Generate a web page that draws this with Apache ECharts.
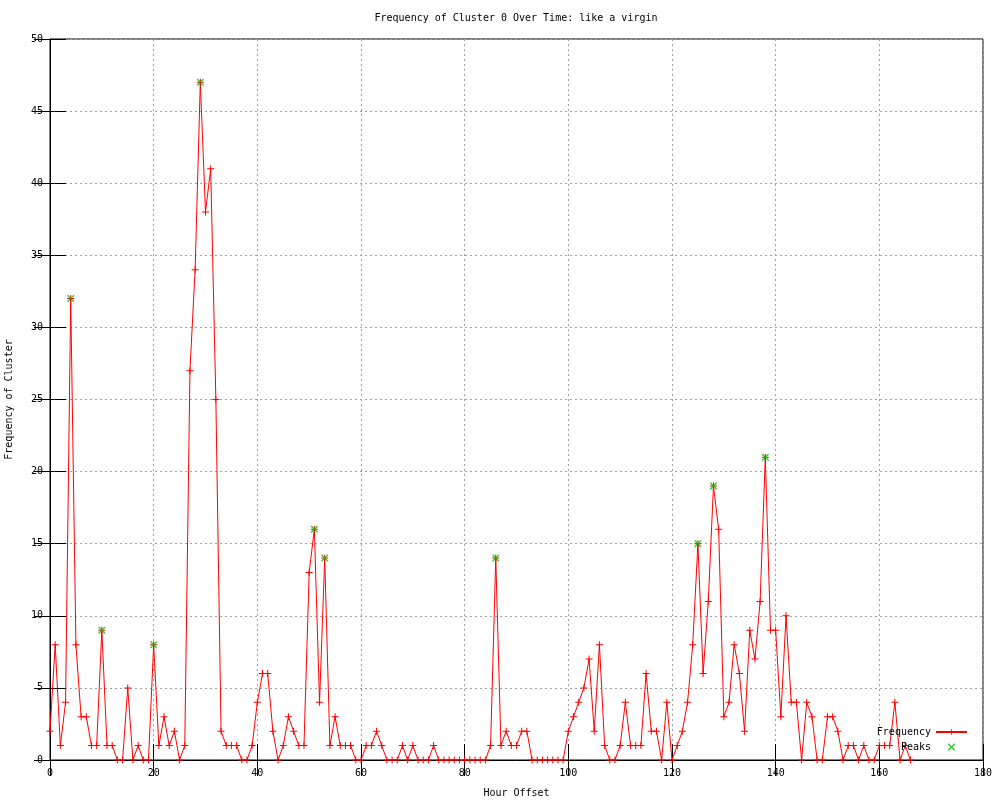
<!DOCTYPE html>
<html>
<head>
<meta charset="utf-8">
<script src="https://cdn.jsdelivr.net/npm/echarts@6/dist/echarts.min.js"></script>
<style>html,body{margin:0;padding:0;background:#fff}#c{width:1000px;height:800px}</style>
</head>
<body>
<div id="c"></div>
<script>
// Frequency per hour offset, hours 0..166
const frequency = [
  2, 8, 1, 4, 32, 8, 3, 3, 1, 1,
  9, 1, 1, 0, 0, 5, 0, 1, 0, 0,
  8, 1, 3, 1, 2, 0, 1, 27, 34, 47,
  38, 41, 25, 2, 1, 1, 1, 0, 0, 1,
  4, 6, 6, 2, 0, 1, 3, 2, 1, 1,
  13, 16, 4, 14, 1, 3, 1, 1, 1, 0,
  0, 1, 1, 2, 1, 0, 0, 0, 1, 0,
  1, 0, 0, 0, 1, 0, 0, 0, 0, 0,
  0, 0, 0, 0, 0, 1, 14, 1, 2, 1,
  1, 2, 2, 0, 0, 0, 0, 0, 0, 0,
  2, 3, 4, 5, 7, 2, 8, 1, 0, 0,
  1, 4, 1, 1, 1, 6, 2, 2, 0, 4,
  0, 1, 2, 4, 8, 15, 6, 11, 19, 16,
  3, 4, 8, 6, 2, 9, 7, 11, 21, 9,
  9, 3, 10, 4, 4, 0, 4, 3, 0, 0,
  3, 3, 2, 0, 1, 1, 0, 1, 0, 0,
  1, 1, 1, 4, 0, 1, 0
];
const peakHours  = [4, 10, 20, 29, 51, 53, 86, 125, 128, 138];
const peakValues = [32, 9, 8, 47, 16, 14, 14, 15, 19, 21];

const xTicks = {min: 0, max: 180, interval: 20};
const yTicks = {min: 0, max: 50, interval: 5};

const freqData = frequency.map((v, i) => [i, v]);
const peakData = peakHours.map((h, i) => [h, peakValues[i]]);

const FONT = 'DejaVu Sans Mono';
const PLUS = 'path://M0,3h7v1h-7z M3,0h1v7h-1z';
const CROSS = 'path://M0,0L1,0L7,6L7,7L6,7L0,1Z M6,0L7,0L7,1L1,7L0,7L0,6Z';

const chart = echarts.init(document.getElementById('c'), null, {renderer: 'canvas'});
const tickStyle = {show: true, inside: true, length: 16, lineStyle: {color: '#000', width: 1}};
chart.setOption({
  animation: false,
  backgroundColor: '#fff',
  title: {
    text: 'Frequency of Cluster 0 Over Time: like a virgin',
    left: 511, top: 8, textAlign: 'center',
    textStyle: {fontFamily: FONT, fontSize: 10, fontWeight: 'normal', color: '#000'}
  },
  grid: {left: 50, right: 17, top: 39, bottom: 40, show: true, borderColor: '#000', borderWidth: 1,
         containLabel: false, outerBoundsMode: 'none'},
  legend: {
    orient: 'vertical', right: 32, top: 727, padding: 0, itemGap: 5,
    align: 'right', itemWidth: 31, itemHeight: 7,
    textStyle: {fontFamily: FONT, fontSize: 10, color: '#000', width: 54, align: 'right'},
    data: [{name: 'Frequency'}, {name: 'Peaks'}]
  },
  xAxis: [{
    type: 'value', ...xTicks,
    name: 'Hour Offset', nameLocation: 'middle', nameGap: 28,
    nameTextStyle: {fontFamily: FONT, fontSize: 10, color: '#000'},
    axisLine: {show: true, lineStyle: {color: '#000'}},
    axisTick: tickStyle,
    axisLabel: {fontFamily: FONT, fontSize: 10, color: '#000', margin: 8},
    splitLine: {show: true, lineStyle: {color: '#a0a0a0', type: [2, 3], width: 1}}
  }, {
    type: 'value', ...xTicks, position: 'top',
    axisLine: {show: false}, axisTick: tickStyle, axisLabel: {show: false}, splitLine: {show: false}
  }],
  yAxis: [{
    type: 'value', ...yTicks,
    name: 'Frequency of Cluster', nameLocation: 'middle', nameGap: 36, nameRotate: 90,
    nameTextStyle: {fontFamily: FONT, fontSize: 10, color: '#000'},
    axisLine: {show: true, lineStyle: {color: '#000'}},
    axisTick: tickStyle,
    axisLabel: {fontFamily: FONT, fontSize: 10, color: '#000', margin: 7},
    splitLine: {show: true, lineStyle: {color: '#a0a0a0', type: [2, 3], width: 1}}
  }, {
    type: 'value', ...yTicks, position: 'right',
    axisLine: {show: false}, axisTick: tickStyle, axisLabel: {show: false}, splitLine: {show: false}
  }],
  series: [{
    name: 'Frequency', type: 'line', data: freqData,
    xAxisIndex: 0, yAxisIndex: 0,
    showAllSymbol: true, symbol: PLUS, symbolSize: 7,
    itemStyle: {color: '#ff0000'},
    lineStyle: {color: '#ff0000', width: 1},
    clip: true, z: 3
  }, {
    name: 'Peaks', type: 'scatter', data: peakData,
    xAxisIndex: 0, yAxisIndex: 0,
    symbol: CROSS, symbolSize: 7,
    itemStyle: {color: '#00c000'},
    z: 4
  }]
});
</script>
</body>
</html>
